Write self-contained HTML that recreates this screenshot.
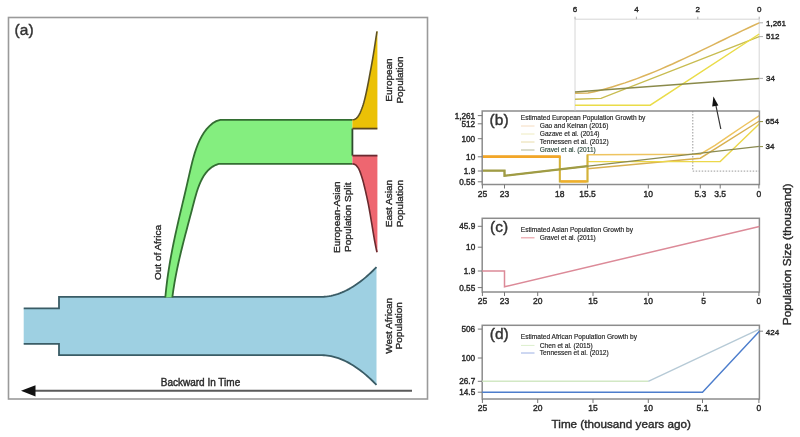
<!DOCTYPE html>
<html><head><meta charset="utf-8"><title>Population history figure</title>
<style>html,body{margin:0;padding:0;background:#fff;}text{fill:#2a2a2a;stroke:#2a2a2a;stroke-width:0.4px;}text.pl{stroke-width:0.4px;fill:#333;stroke:#333}text.lg{stroke-width:0.15px;fill:#1e1e1e;stroke:#1e1e1e}body{width:800px;height:437px;overflow:hidden;}svg{display:block;}</style>
</head><body>
<svg width="800" height="437" viewBox="0 0 800 437" font-family="'Liberation Sans', Arial, Helvetica, sans-serif"><rect x="8.5" y="17.5" width="419" height="381.5" fill="none" stroke="#9a9a9a" stroke-width="1.6"/>
<text x="14.6" y="35.3" font-size="15.5" class="pl">(a)</text>
<path d="M23.7,308.4 L59,308.4 L59,296.8 L322.00,296.80 L323.82,296.75 L325.63,296.63 L327.45,296.43 L329.27,296.16 L331.08,295.82 L332.90,295.41 L334.72,294.93 L336.53,294.40 L338.35,293.79 L340.17,293.12 L341.98,292.39 L343.80,291.60 L345.62,290.74 L347.43,289.83 L349.25,288.85 L351.07,287.81 L352.88,286.71 L354.70,285.56 L356.52,284.34 L358.33,283.06 L360.15,281.72 L361.97,280.33 L363.78,278.88 L365.60,277.37 L367.42,275.80 L369.23,274.17 L371.05,272.49 L372.87,270.74 L374.68,268.95 L376.50,267.09 L376.50,384.91 L376.50,384.91 L374.68,383.05 L372.87,381.26 L371.05,379.51 L369.23,377.83 L367.42,376.20 L365.60,374.63 L363.78,373.12 L361.97,371.67 L360.15,370.28 L358.33,368.94 L356.52,367.66 L354.70,366.44 L352.88,365.29 L351.07,364.19 L349.25,363.15 L347.43,362.17 L345.62,361.26 L343.80,360.40 L341.98,359.61 L340.17,358.88 L338.35,358.21 L336.53,357.60 L334.72,357.07 L332.90,356.59 L331.08,356.18 L329.27,355.84 L327.45,355.57 L325.63,355.37 L323.82,355.25 L322.00,355.20 L59,355.2 L59,343.8 L23.7,343.8 Z" fill="#9ed0e2" stroke="none"/>
<path d="M23.7,308.4 L59,308.4 L59,296.8 L322.00,296.80 L323.82,296.75 L325.63,296.63 L327.45,296.43 L329.27,296.16 L331.08,295.82 L332.90,295.41 L334.72,294.93 L336.53,294.40 L338.35,293.79 L340.17,293.12 L341.98,292.39 L343.80,291.60 L345.62,290.74 L347.43,289.83 L349.25,288.85 L351.07,287.81 L352.88,286.71 L354.70,285.56 L356.52,284.34 L358.33,283.06 L360.15,281.72 L361.97,280.33 L363.78,278.88 L365.60,277.37 L367.42,275.80 L369.23,274.17 L371.05,272.49 L372.87,270.74 L374.68,268.95 L376.50,267.09" fill="none" stroke="#3a5c66" stroke-width="1.8"/>
<path d="M23.7,343.8 L59,343.8 L59,355.2 L322.00,355.20 L323.82,355.25 L325.63,355.37 L327.45,355.57 L329.27,355.84 L331.08,356.18 L332.90,356.59 L334.72,357.07 L336.53,357.60 L338.35,358.21 L340.17,358.88 L341.98,359.61 L343.80,360.40 L345.62,361.26 L347.43,362.17 L349.25,363.15 L351.07,364.19 L352.88,365.29 L354.70,366.44 L356.52,367.66 L358.33,368.94 L360.15,370.28 L361.97,371.67 L363.78,373.12 L365.60,374.63 L367.42,376.20 L369.23,377.83 L371.05,379.51 L372.87,381.26 L374.68,383.05 L376.50,384.91" fill="none" stroke="#3a5c66" stroke-width="1.8"/>
<path d="M165.30,297.48 L165.75,292.71 L166.25,287.99 L166.81,283.31 L167.40,278.68 L168.05,274.09 L168.74,269.54 L169.46,265.02 L170.23,260.52 L171.03,256.06 L171.87,251.62 L172.74,247.19 L173.63,242.78 L174.56,238.38 L175.50,233.99 L176.47,229.60 L177.46,225.21 L178.47,220.82 L179.49,216.42 L180.52,212.01 L181.57,207.59 L182.62,203.15 L183.68,198.69 L184.74,194.20 L185.80,189.68 L186.86,185.13 L187.92,180.55 L188.97,175.92 L190.03,171.27 L191.11,166.61 L192.25,161.97 L193.47,157.39 L194.80,152.89 L196.27,148.50 L197.89,144.24 L199.71,140.15 L201.74,136.26 L204.02,132.58 L206.56,129.16 L209.41,126.05 L212.61,123.34 L216.21,121.15 L220.26,119.80 L224.80,119.80 L229.89,119.80 L352.4,119.8 L352.4,163.9 L229.96,163.90 L225.84,163.90 L222.07,163.90 L218.63,163.92 L215.51,165.08 L212.67,166.62 L210.10,168.49 L207.78,170.66 L205.69,173.12 L203.80,175.82 L202.11,178.74 L200.57,181.86 L199.19,185.14 L197.93,188.55 L196.77,192.06 L195.69,195.65 L194.68,199.29 L193.71,202.94 L192.77,206.58 L191.83,210.19 L190.89,213.75 L189.95,217.29 L189.02,220.79 L188.09,224.27 L187.18,227.73 L186.27,231.16 L185.37,234.58 L184.48,237.99 L183.61,241.38 L182.75,244.78 L181.90,248.17 L181.07,251.56 L180.26,254.95 L179.47,258.36 L178.69,261.77 L177.94,265.21 L177.21,268.66 L176.51,272.13 L175.82,275.63 L175.17,279.16 L174.54,282.72 L173.94,286.32 L173.37,289.96 L172.84,293.64 L172.33,297.37 Z" fill="#84ee7f" stroke="none"/>
<path d="M165.30,297.48 L165.75,292.71 L166.25,287.99 L166.81,283.31 L167.40,278.68 L168.05,274.09 L168.74,269.54 L169.46,265.02 L170.23,260.52 L171.03,256.06 L171.87,251.62 L172.74,247.19 L173.63,242.78 L174.56,238.38 L175.50,233.99 L176.47,229.60 L177.46,225.21 L178.47,220.82 L179.49,216.42 L180.52,212.01 L181.57,207.59 L182.62,203.15 L183.68,198.69 L184.74,194.20 L185.80,189.68 L186.86,185.13 L187.92,180.55 L188.97,175.92 L190.03,171.27 L191.11,166.61 L192.25,161.97 L193.47,157.39 L194.80,152.89 L196.27,148.50 L197.89,144.24 L199.71,140.15 L201.74,136.26 L204.02,132.58 L206.56,129.16 L209.41,126.05 L212.61,123.34 L216.21,121.15 L220.26,119.80 L224.80,119.80 L229.89,119.80 L352.4,119.8" fill="none" stroke="#336e32" stroke-width="1.8"/>
<path d="M172.33,297.37 L172.84,293.64 L173.37,289.96 L173.94,286.32 L174.54,282.72 L175.17,279.16 L175.82,275.63 L176.51,272.13 L177.21,268.66 L177.94,265.21 L178.69,261.77 L179.47,258.36 L180.26,254.95 L181.07,251.56 L181.90,248.17 L182.75,244.78 L183.61,241.38 L184.48,237.99 L185.37,234.58 L186.27,231.16 L187.18,227.73 L188.09,224.27 L189.02,220.79 L189.95,217.29 L190.89,213.75 L191.83,210.19 L192.77,206.58 L193.71,202.94 L194.68,199.29 L195.69,195.65 L196.77,192.06 L197.93,188.55 L199.19,185.14 L200.57,181.86 L202.11,178.74 L203.80,175.82 L205.69,173.12 L207.78,170.66 L210.10,168.49 L212.67,166.62 L215.51,165.08 L218.63,163.92 L222.07,163.90 L225.84,163.90 L229.96,163.90 L352.4,163.9" fill="none" stroke="#336e32" stroke-width="1.8"/>
<path d="M352.4,128.6 L352.4,155.6" fill="none" stroke="#2f4a2f" stroke-width="1.8"/>
<path d="M352.40,119.80 L354.52,119.42 L356.35,118.31 L357.85,116.75 L359.03,114.96 L360.00,113.04 L360.87,111.06 L361.67,109.07 L362.40,107.05 L363.08,105.02 L363.71,102.97 L364.28,100.91 L364.81,98.83 L365.32,96.74 L365.79,94.65 L366.25,92.55 L366.70,90.46 L367.14,88.36 L367.57,86.25 L367.98,84.15 L368.39,82.05 L368.80,79.94 L369.19,77.83 L369.58,75.72 L369.97,73.61 L370.36,71.50 L370.75,69.39 L371.14,67.29 L371.53,65.18 L371.91,63.07 L372.29,60.95 L372.66,58.84 L373.02,56.73 L373.37,54.61 L373.71,52.49 L374.05,50.38 L374.38,48.26 L374.70,46.14 L375.03,44.02 L375.35,41.90 L375.67,39.78 L376.00,37.66 L376.33,35.54 L376.66,33.42 L377.00,31.30 L377.4,31.3 L377.4,128.6 L352.4,128.6 Z" fill="#ebc106" stroke="none"/>
<path d="M352.40,119.80 L354.52,119.42 L356.35,118.31 L357.85,116.75 L359.03,114.96 L360.00,113.04 L360.87,111.06 L361.67,109.07 L362.40,107.05 L363.08,105.02 L363.71,102.97 L364.28,100.91 L364.81,98.83 L365.32,96.74 L365.79,94.65 L366.25,92.55 L366.70,90.46 L367.14,88.36 L367.57,86.25 L367.98,84.15 L368.39,82.05 L368.80,79.94 L369.19,77.83 L369.58,75.72 L369.97,73.61 L370.36,71.50 L370.75,69.39 L371.14,67.29 L371.53,65.18 L371.91,63.07 L372.29,60.95 L372.66,58.84 L373.02,56.73 L373.37,54.61 L373.71,52.49 L374.05,50.38 L374.38,48.26 L374.70,46.14 L375.03,44.02 L375.35,41.90 L375.67,39.78 L376.00,37.66 L376.33,35.54 L376.66,33.42 L377.00,31.30" fill="none" stroke="#5e5222" stroke-width="1.6"/>
<path d="M352.4,128.6 L377.4,128.6" fill="none" stroke="#5a4620" stroke-width="1.8"/>
<path d="M352.40,163.90 L354.52,164.27 L356.27,165.46 L357.68,167.11 L358.79,168.94 L359.68,170.89 L360.46,172.89 L361.16,174.91 L361.82,176.94 L362.43,178.99 L363.01,181.04 L363.56,183.11 L364.09,185.18 L364.59,187.25 L365.08,189.33 L365.57,191.41 L366.04,193.50 L366.51,195.58 L366.97,197.67 L367.43,199.76 L367.86,201.85 L368.29,203.94 L368.70,206.04 L369.09,208.14 L369.47,210.24 L369.84,212.35 L370.21,214.45 L370.57,216.56 L370.92,218.66 L371.27,220.77 L371.62,222.88 L371.97,224.99 L372.32,227.10 L372.66,229.20 L373.01,231.31 L373.35,233.42 L373.71,235.53 L374.07,237.63 L374.44,239.74 L374.83,241.84 L375.22,243.94 L375.64,246.03 L376.07,248.13 L376.52,250.22 L377.00,252.30 L377.4,252.3 L377.4,155.6 L352.4,155.6 Z" fill="#ee6670" stroke="none"/>
<path d="M352.40,163.90 L354.52,164.27 L356.27,165.46 L357.68,167.11 L358.79,168.94 L359.68,170.89 L360.46,172.89 L361.16,174.91 L361.82,176.94 L362.43,178.99 L363.01,181.04 L363.56,183.11 L364.09,185.18 L364.59,187.25 L365.08,189.33 L365.57,191.41 L366.04,193.50 L366.51,195.58 L366.97,197.67 L367.43,199.76 L367.86,201.85 L368.29,203.94 L368.70,206.04 L369.09,208.14 L369.47,210.24 L369.84,212.35 L370.21,214.45 L370.57,216.56 L370.92,218.66 L371.27,220.77 L371.62,222.88 L371.97,224.99 L372.32,227.10 L372.66,229.20 L373.01,231.31 L373.35,233.42 L373.71,235.53 L374.07,237.63 L374.44,239.74 L374.83,241.84 L375.22,243.94 L375.64,246.03 L376.07,248.13 L376.52,250.22 L377.00,252.30" fill="none" stroke="#6a2a2e" stroke-width="1.6"/>
<path d="M352.4,155.6 L377.4,155.6" fill="none" stroke="#6a2a30" stroke-width="1.8"/>
<text transform="translate(392.3,80.0) rotate(-90) scale(1,0.87)" text-anchor="middle" font-size="10">European</text><text transform="translate(402.8,80.0) rotate(-90) scale(1,0.87)" text-anchor="middle" font-size="10">Population</text>
<text transform="translate(391.7,203.6) rotate(-90) scale(1,0.87)" text-anchor="middle" font-size="10">East Asian</text><text transform="translate(402.7,203.6) rotate(-90) scale(1,0.87)" text-anchor="middle" font-size="10">Population</text>
<text transform="translate(339.5,217.2) rotate(-90) scale(1,0.87)" text-anchor="middle" font-size="10">European-Asian</text><text transform="translate(350.8,217.2) rotate(-90) scale(1,0.87)" text-anchor="middle" font-size="10">Population Split</text>
<text transform="translate(160.7,252.5) rotate(-90) scale(1,0.87)" text-anchor="middle" font-size="10">Out of Africa</text>
<text transform="translate(391.6,325.8) rotate(-90) scale(1,0.87)" text-anchor="middle" font-size="10">West African</text><text transform="translate(402.0,325.8) rotate(-90) scale(1,0.87)" text-anchor="middle" font-size="10">Population</text>
<text x="200.5" y="385.6" text-anchor="middle" font-size="10" fill="#333">Backward In Time</text>
<path d="M33,390.8 L412,390.8" stroke="#5a5a5a" stroke-width="2.0"/>
<path d="M21,390.8 L35.5,385.2 L35.5,396.4 Z" fill="#111"/>
<path d="M692.8,111.0 L692.8,171.1 L759.4,171.1" fill="none" stroke="#999" stroke-width="1" stroke-dasharray="1.5,1.5"/>
<path d="M482.2,156.6 L559.8,156.6 L559.8,181.4 L587.5,181.4 L587.5,154.8 L700.3,154.2 L715.0,145.4 L730.0,135.2 L745.0,125.0 L759.4,115.6" fill="none" stroke="#eec460" stroke-width="1.5" stroke-linejoin="miter" opacity="1"/>
<path d="M587.5,168.8 L700.3,158.2 L759.4,121.0" fill="none" stroke="#d8b050" stroke-width="1.4" stroke-linejoin="miter" opacity="1"/>
<path d="M587.5,161.6 L720.2,161.6 L759.4,123.8" fill="none" stroke="#ecd84a" stroke-width="1.4" stroke-linejoin="miter" opacity="1"/>
<path d="M559.8,156.6 L559.8,181.4 L587.5,181.4 L587.5,154.8" fill="none" stroke="#d2b23a" stroke-width="2.0" stroke-linejoin="miter" opacity="1"/>
<path d="M560.8,181.4 L586.5,181.4" fill="none" stroke="#f0ae2a" stroke-width="2.2" stroke-linejoin="miter" opacity="1"/>
<path d="M482.2,156.6 L560.6,156.6" fill="none" stroke="#f2a628" stroke-width="2.6" stroke-linejoin="miter" opacity="1"/>
<path d="M482.2,170.6 L504.5,170.6 L504.5,175.8 L759.4,146.4" fill="none" stroke="#8a8a50" stroke-width="1.4" stroke-linejoin="miter" opacity="1"/>
<path d="M482.2,170.6 L504.5,170.6 L504.5,175.8 L587.5,166.2" fill="none" stroke="#a09c44" stroke-width="2.2" stroke-linejoin="miter" opacity="1"/>
<rect x="482.2" y="111.0" width="277.2" height="73.5" fill="none" stroke="#8c8c8c" stroke-width="1.5"/>
<path d="M477.8,115.6 L482.2,115.6" stroke="#777" stroke-width="1"/>
<text x="475.2" y="118.5" text-anchor="end" font-size="8.2" fill="#333">1,261</text>
<path d="M477.8,123.8 L482.2,123.8" stroke="#777" stroke-width="1"/>
<text x="475.2" y="126.7" text-anchor="end" font-size="8.2" fill="#333">512</text>
<path d="M477.8,138.7 L482.2,138.7" stroke="#777" stroke-width="1"/>
<text x="475.2" y="141.6" text-anchor="end" font-size="8.2" fill="#333">100</text>
<path d="M477.8,156.8 L482.2,156.8" stroke="#777" stroke-width="1"/>
<text x="475.2" y="159.7" text-anchor="end" font-size="8.2" fill="#333">10</text>
<path d="M477.8,171.0 L482.2,171.0" stroke="#777" stroke-width="1"/>
<text x="475.2" y="173.9" text-anchor="end" font-size="8.2" fill="#333">1.9</text>
<path d="M477.8,181.8 L482.2,181.8" stroke="#777" stroke-width="1"/>
<text x="475.2" y="184.7" text-anchor="end" font-size="8.2" fill="#333">0.55</text>
<text x="489.6" y="125.0" font-size="15.5" class="pl">(b)</text>
<path d="M482.4,184.5 L482.4,188.5" stroke="#777" stroke-width="1"/>
<text x="482.4" y="197.1" text-anchor="middle" font-size="8.5" fill="#333">25</text>
<path d="M504.5,184.5 L504.5,188.5" stroke="#777" stroke-width="1"/>
<text x="504.5" y="197.1" text-anchor="middle" font-size="8.5" fill="#333">23</text>
<path d="M559.8,184.5 L559.8,188.5" stroke="#777" stroke-width="1"/>
<text x="559.8" y="197.1" text-anchor="middle" font-size="8.5" fill="#333">18</text>
<path d="M587.5,184.5 L587.5,188.5" stroke="#777" stroke-width="1"/>
<text x="587.5" y="197.1" text-anchor="middle" font-size="8.5" fill="#333">15.5</text>
<path d="M648.3,184.5 L648.3,188.5" stroke="#777" stroke-width="1"/>
<text x="648.3" y="197.1" text-anchor="middle" font-size="8.5" fill="#333">10</text>
<path d="M700.3,184.5 L700.3,188.5" stroke="#777" stroke-width="1"/>
<text x="700.3" y="197.1" text-anchor="middle" font-size="8.5" fill="#333">5.3</text>
<path d="M720.2,184.5 L720.2,188.5" stroke="#777" stroke-width="1"/>
<text x="720.2" y="197.1" text-anchor="middle" font-size="8.5" fill="#333">3.5</text>
<path d="M758.9,184.5 L758.9,188.5" stroke="#777" stroke-width="1"/>
<text x="758.9" y="197.1" text-anchor="middle" font-size="8.5" fill="#333">0</text>
<path d="M759.4,121.6 L763,121.6" stroke="#8c8a3a" stroke-width="1"/>
<path d="M759.4,146.6 L763,146.6" stroke="#8c8a3a" stroke-width="1"/>
<text x="765.5" y="124.4" font-size="8" fill="#333">654</text>
<text x="765.5" y="149.4" font-size="8" fill="#333">34</text>
<text x="520.8" y="119.8" font-size="6.6" class="lg">Estimated European Population Growth by</text>
<path d="M521,126.0 L534.5,126.0" stroke="#f5dcc0" stroke-width="1"/>
<text x="539.8" y="128.3" font-size="6.6" class="lg">Gao and Keinan (2016)</text>
<path d="M521,134.0 L534.5,134.0" stroke="#eeebc0" stroke-width="1"/>
<text x="539.8" y="136.3" font-size="6.6" class="lg">Gazave et al. (2014)</text>
<path d="M521,142.0 L534.5,142.0" stroke="#e8dcaa" stroke-width="1"/>
<text x="539.8" y="144.3" font-size="6.6" class="lg">Tennessen et al. (2012)</text>
<path d="M521,150.0 L534.5,150.0" stroke="#b4b896" stroke-width="1"/>
<text x="539.8" y="152.3" font-size="6.6" class="lg" style="fill:#2e4a3e;stroke:#2e4a3e">Gravel et al. (2011)</text>
<path d="M575.0,110.5 L575.0,19.2 L759.2,19.2 L759.2,110.5" fill="none" stroke="#d6d6d6" stroke-width="1"/>
<path d="M575.0,19.2 L575.0,16.7" stroke="#999" stroke-width="0.8"/>
<text x="575.0" y="11.9" text-anchor="middle" font-size="8" fill="#444">6</text>
<path d="M636.4,19.2 L636.4,16.7" stroke="#999" stroke-width="0.8"/>
<text x="636.4" y="11.9" text-anchor="middle" font-size="8" fill="#444">4</text>
<path d="M697.8,19.2 L697.8,16.7" stroke="#999" stroke-width="0.8"/>
<text x="697.8" y="11.9" text-anchor="middle" font-size="8" fill="#444">2</text>
<path d="M759.2,19.2 L759.2,16.7" stroke="#999" stroke-width="0.8"/>
<text x="759.2" y="11.9" text-anchor="middle" font-size="8" fill="#444">0</text>
<path d="M575.0,93.2 L588.0,93.1 L594.3,91.7 L600.5,90.2 L606.7,88.5 L612.8,86.7 L618.9,84.8 L625.0,82.9 L631.0,80.8 L637.0,78.6 L643.0,76.3 L648.9,74.0 L654.9,71.6 L660.8,69.1 L666.6,66.5 L672.5,64.0 L678.3,61.3 L684.1,58.6 L689.9,55.9 L695.7,53.2 L701.5,50.4 L707.3,47.6 L713.0,44.8 L718.8,42.0 L724.6,39.2 L730.3,36.4 L736.1,33.7 L741.9,30.9 L747.6,28.2 L753.4,25.5 L759.2,22.9" fill="none" stroke="#dcb45c" stroke-width="1.5" stroke-linejoin="miter" opacity="1"/>
<path d="M575.0,99.2 L601.0,98.4 L759.2,36.6" fill="none" stroke="#c8bc50" stroke-width="1.4" stroke-linejoin="miter" opacity="1"/>
<path d="M575.0,105.2 L650.2,105.2 L759.2,34.0" fill="none" stroke="#eadc48" stroke-width="1.4" stroke-linejoin="miter" opacity="1"/>
<path d="M575.0,92.0 L759.2,78.4" fill="none" stroke="#8a8a4a" stroke-width="1.5" stroke-linejoin="miter" opacity="1"/>
<path d="M759.2,22.8 L763,22.8" stroke="#999" stroke-width="0.8"/>
<text x="766" y="25.6" font-size="8" fill="#333">1,261</text>
<path d="M759.2,36.6 L763,36.6" stroke="#999" stroke-width="0.8"/>
<text x="766" y="39.4" font-size="8" fill="#333">512</text>
<path d="M759.2,78.4 L763,78.4" stroke="#999" stroke-width="0.8"/>
<text x="766" y="81.2" font-size="8" fill="#333">34</text>
<path d="M720.8,129 L715.6,104" stroke="#333" stroke-width="1.2"/>
<path d="M713.4,96.6 L718.4,105.4 L712.2,106.4 Z" fill="#111"/>
<rect x="482.2" y="218.3" width="277.2" height="73.69999999999999" fill="none" stroke="#8c8c8c" stroke-width="1.5"/>
<path d="M477.8,226.3 L482.2,226.3" stroke="#777" stroke-width="1"/>
<text x="475.2" y="229.2" text-anchor="end" font-size="8.2" fill="#333">45.9</text>
<path d="M477.8,247.2 L482.2,247.2" stroke="#777" stroke-width="1"/>
<text x="475.2" y="250.1" text-anchor="end" font-size="8.2" fill="#333">10</text>
<path d="M477.8,271.0 L482.2,271.0" stroke="#777" stroke-width="1"/>
<text x="475.2" y="273.9" text-anchor="end" font-size="8.2" fill="#333">1.9</text>
<path d="M477.8,287.6 L482.2,287.6" stroke="#777" stroke-width="1"/>
<text x="475.2" y="290.5" text-anchor="end" font-size="8.2" fill="#333">0.55</text>
<path d="M482.2,271.0 L504.5,271.0 L504.5,286.8 L759.4,226.4" fill="none" stroke="#dc8a98" stroke-width="1.5" stroke-linejoin="miter" opacity="1"/>
<text x="490.0" y="232.0" font-size="15.5" class="pl">(c)</text>
<path d="M482.4,292.0 L482.4,296.0" stroke="#777" stroke-width="1"/>
<text x="482.4" y="304.1" text-anchor="middle" font-size="8.5" fill="#333">25</text>
<path d="M504.5,292.0 L504.5,296.0" stroke="#777" stroke-width="1"/>
<text x="504.5" y="304.1" text-anchor="middle" font-size="8.5" fill="#333">23</text>
<path d="M537.7,292.0 L537.7,296.0" stroke="#777" stroke-width="1"/>
<text x="537.7" y="304.1" text-anchor="middle" font-size="8.5" fill="#333">20</text>
<path d="M593.0,292.0 L593.0,296.0" stroke="#777" stroke-width="1"/>
<text x="593.0" y="304.1" text-anchor="middle" font-size="8.5" fill="#333">15</text>
<path d="M648.3,292.0 L648.3,296.0" stroke="#777" stroke-width="1"/>
<text x="648.3" y="304.1" text-anchor="middle" font-size="8.5" fill="#333">10</text>
<path d="M703.6,292.0 L703.6,296.0" stroke="#777" stroke-width="1"/>
<text x="703.6" y="304.1" text-anchor="middle" font-size="8.5" fill="#333">5</text>
<path d="M758.9,292.0 L758.9,296.0" stroke="#777" stroke-width="1"/>
<text x="758.9" y="304.1" text-anchor="middle" font-size="8.5" fill="#333">0</text>
<text x="520.8" y="232.0" font-size="6.6" class="lg">Estimated Asian Population Growth by</text>
<path d="M521,237.8 L534.5,237.8" stroke="#eaa0a8" stroke-width="1.2"/>
<text x="539.8" y="240.1" font-size="6.6" class="lg">Gravel et al. (2011)</text>
<rect x="482.2" y="325.3" width="277.2" height="73.69999999999999" fill="none" stroke="#8c8c8c" stroke-width="1.5"/>
<path d="M477.8,329.1 L482.2,329.1" stroke="#777" stroke-width="1"/>
<text x="475.2" y="332.0" text-anchor="end" font-size="8.2" fill="#333">506</text>
<path d="M477.8,358.0 L482.2,358.0" stroke="#777" stroke-width="1"/>
<text x="475.2" y="360.9" text-anchor="end" font-size="8.2" fill="#333">100</text>
<path d="M477.8,381.3 L482.2,381.3" stroke="#777" stroke-width="1"/>
<text x="475.2" y="384.2" text-anchor="end" font-size="8.2" fill="#333">26.7</text>
<path d="M477.8,392.2 L482.2,392.2" stroke="#777" stroke-width="1"/>
<text x="475.2" y="395.1" text-anchor="end" font-size="8.2" fill="#333">14.5</text>
<path d="M482.2,381.3 L648.3,381.3" fill="none" stroke="#d2e8c4" stroke-width="1.4" stroke-linejoin="miter" opacity="1"/>
<path d="M648.3,381.3 L759.4,329.2" fill="none" stroke="#b6cad6" stroke-width="1.4" stroke-linejoin="miter" opacity="1"/>
<path d="M482.2,392.2 L702.5,392.2 L759.4,331.2" fill="none" stroke="#4c7dcc" stroke-width="1.4" stroke-linejoin="miter" opacity="1"/>
<path d="M759.4,331.2 L763,331.2" stroke="#666" stroke-width="0.8"/>
<text x="765.8" y="335.4" font-size="8" fill="#333">424</text>
<text x="489.8" y="339.4" font-size="15.5" class="pl">(d)</text>
<path d="M482.4,399.0 L482.4,403.0" stroke="#777" stroke-width="1"/>
<text x="482.4" y="411.1" text-anchor="middle" font-size="8.5" fill="#333">25</text>
<path d="M537.7,399.0 L537.7,403.0" stroke="#777" stroke-width="1"/>
<text x="537.7" y="411.1" text-anchor="middle" font-size="8.5" fill="#333">20</text>
<path d="M593.0,399.0 L593.0,403.0" stroke="#777" stroke-width="1"/>
<text x="593.0" y="411.1" text-anchor="middle" font-size="8.5" fill="#333">15</text>
<path d="M648.3,399.0 L648.3,403.0" stroke="#777" stroke-width="1"/>
<text x="648.3" y="411.1" text-anchor="middle" font-size="8.5" fill="#333">10</text>
<path d="M702.5,399.0 L702.5,403.0" stroke="#777" stroke-width="1"/>
<text x="702.5" y="411.1" text-anchor="middle" font-size="8.5" fill="#333">5.1</text>
<path d="M758.9,399.0 L758.9,403.0" stroke="#777" stroke-width="1"/>
<text x="758.9" y="411.1" text-anchor="middle" font-size="8.5" fill="#333">0</text>
<text x="520.8" y="339.0" font-size="6.6" class="lg">Estimated African Population Growth by</text>
<path d="M521,345.4 L534.5,345.4" stroke="#dcefcc" stroke-width="1"/>
<text x="539.8" y="347.7" font-size="6.6" class="lg">Chen et al. (2015)</text>
<path d="M521,353.0 L534.5,353.0" stroke="#9cb0e4" stroke-width="1"/>
<text x="539.8" y="355.3" font-size="6.6" class="lg">Tennessen et al. (2012)</text>
<text x="621.2" y="428.3" text-anchor="middle" font-size="11.7" fill="#333">Time (thousand years ago)</text>
<text transform="translate(791.1,254.4) rotate(-90)" text-anchor="middle" font-size="11.8" fill="#333">Population Size (thousand)</text></svg>
</body></html>
